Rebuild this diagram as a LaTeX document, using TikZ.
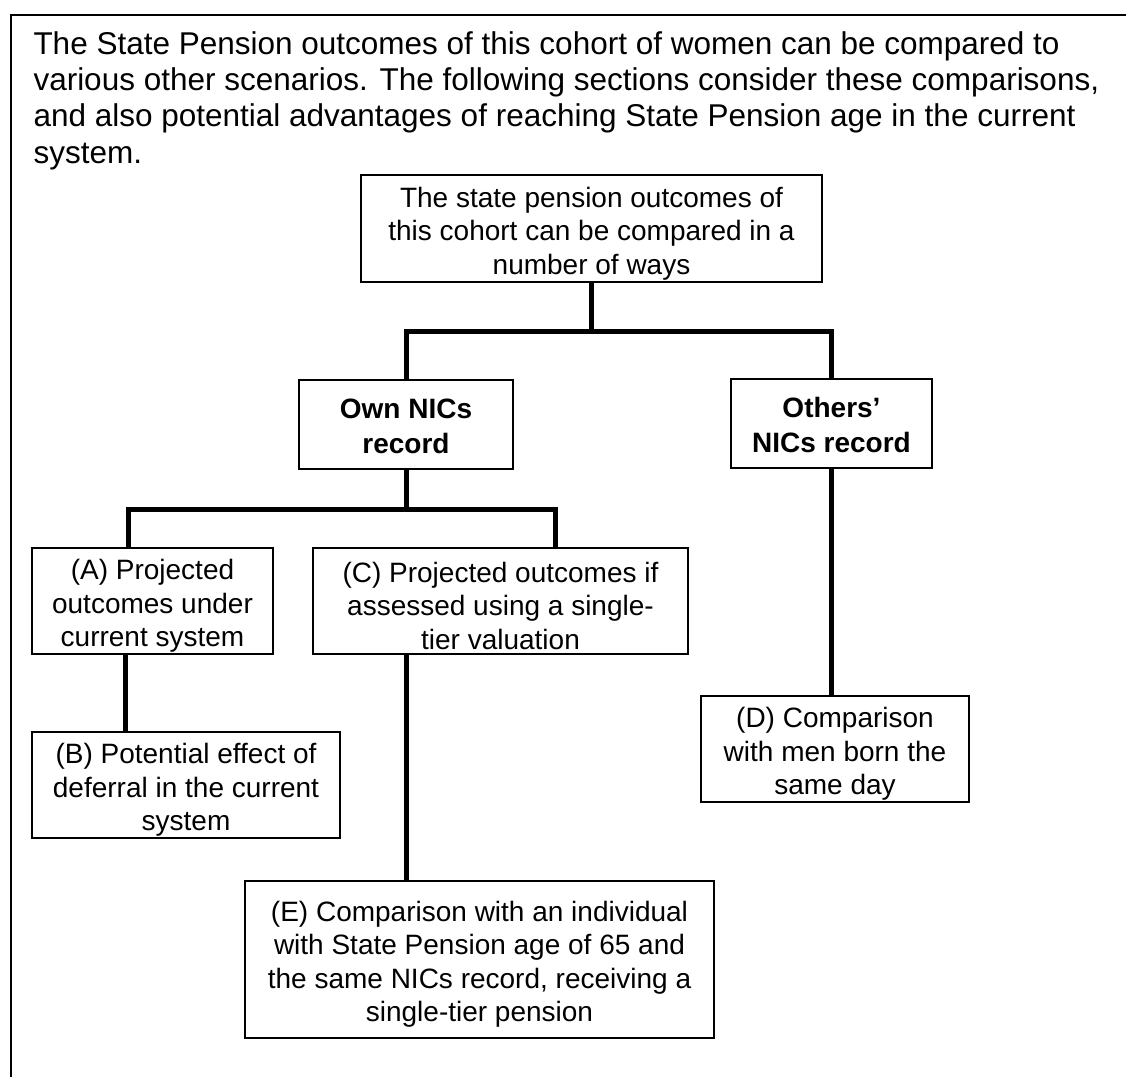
\documentclass[tikz,border=0pt]{standalone}
\usepackage{fontspec}
\setmainfont{Liberation Sans}
\usetikzlibrary{calc}
\newcommand\lift[1][12pt]{\rule{0pt}{#1}}
\tikzset{pbox/.style 2 args={draw,line width=.5pt,align=center,inner sep=0pt,minimum width=#1*.4pt,minimum height=#2*.4pt,font=\fontsize{11.2}{13.4}\selectfont},
bbox/.style 2 args={pbox={#1}{#2},font=\bfseries\fontsize{11.2}{13.8}\selectfont},
link/.style={line width=2pt}}
\begin{document}
\begin{tikzpicture}[x=.4pt,y=-.4pt]
\useasboundingbox(0,0)rectangle(1126,1077);
\draw[line width=.8pt](11,1077)--(11,15)--(1126,15);
\node[anchor=north west,inner sep=0pt,align=left,font=\fontsize{12.6}{14.5}\selectfont](intro)at(33,31){The State Pension outcomes of this cohort of women can be compared to\\various other scenarios. The following sections consider these comparisons,\\and also potential advantages of reaching State Pension age in the current\\system.};
\node[pbox={461}{107}](top)at(591.5,228.5){\lift The state pension outcomes of\\this cohort can be compared in a\\number of ways};
\node[bbox={214}{89}](own)at(406,424.5){\lift[9.5pt]Own NICs\\record};
\node[bbox={201}{89}](others)at(831.5,423.5){\lift[9.5pt]Others’\\NICs record};
\node[pbox={241}{106}](A)at(152.5,601){\lift(A) Projected\\outcomes under\\current system};
\node[pbox={375}{106}](C)at(500.5,601){\lift(C) Projected outcomes if\\assessed using a single-\\tier valuation};
\node[pbox={308}{106}](B)at(186,785){\lift(B) Potential effect of\\deferral in the current\\system};
\node[pbox={268}{106}](D)at(835,749){\lift(D) Comparison\\with men born the\\same day};
\node[pbox={469}{157}](E)at(479.5,959.5){\lift(E) Comparison with an individual\\with State Pension age of 65 and\\the same NICs record, receiving a\\single-tier pension};
\draw[link](top.south)--++(0,49)coordinate(s1);
\draw[link](own.north)|-(s1)-|(others.north);
\draw[link](own.south)--++(0,40)coordinate(s2);
\draw[link]($(A.north west)!.4!(A.north east)$)|-(s2)-|($(C.north west)!.645!(C.north east)$);
\draw[link]($(A.south west)!.39!(A.south east)$)coordinate(a1)--(a1|-B.north);
\draw[link]($(C.south west)!.25!(C.south east)$)coordinate(c1)--(c1|-E.north);
\draw[link](others.south)--(others.south|-D.north);
\end{tikzpicture}
\end{document}
